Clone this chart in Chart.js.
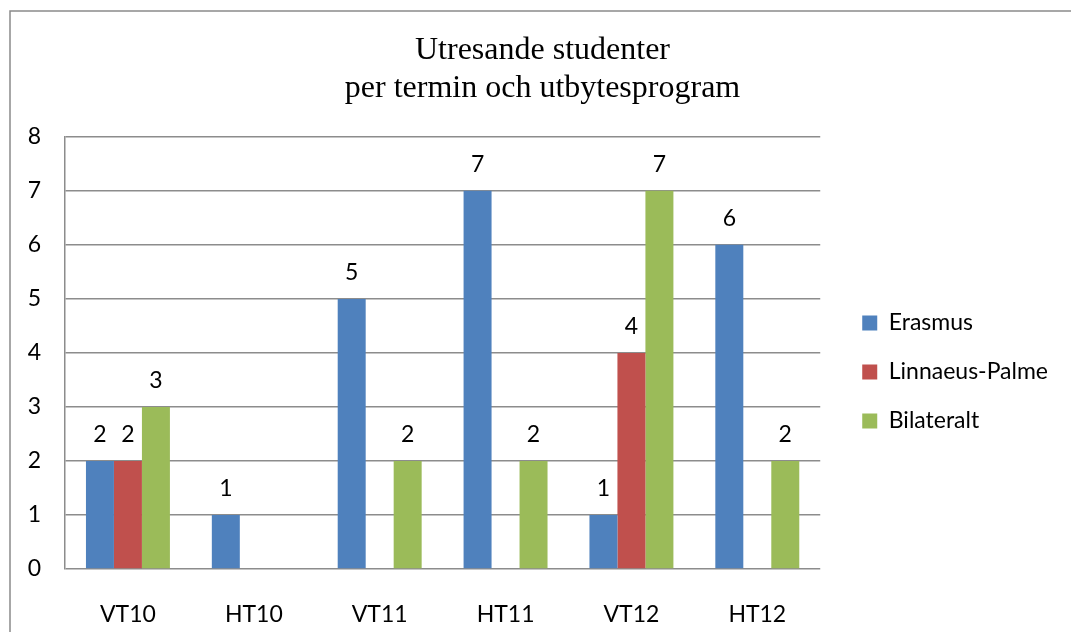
<!DOCTYPE html>
<html>
<head>
<meta charset="utf-8">
<script src="https://cdn.jsdelivr.net/npm/chart.js@4/dist/chart.umd.min.js"></script>
<style>
  html, body { margin: 0; padding: 0; background: #fff; }
  #wrap { position: relative; width: 1071px; height: 632px; }
</style>
</head>
<body>
<div id="wrap"><canvas id="chart" width="1071" height="632"></canvas></div>
<script>
// Data
const terms = ["VT10", "HT10", "VT11", "HT11", "VT12", "HT12"];
const erasmus = [2, 1, 5, 7, 1, 6];
const linnaeusPalme = [2, null, null, null, 4, null];
const bilateralt = [3, null, 2, 2, 7, 2];
const yTicks = [0, 1, 2, 3, 4, 5, 6, 7, 8];

const labelFont = { family: "Lato", size: 23 };

// Frame line round the chart (left and top edges only visible)
const framePlugin = {
  id: "frame",
  beforeDraw(chart) {
    const ctx = chart.ctx;
    ctx.save();
    ctx.strokeStyle = "#8a8a8a";
    ctx.lineWidth = 1.5;
    ctx.beginPath();
    ctx.moveTo(10, 632);
    ctx.lineTo(10, 11);
    ctx.lineTo(1071, 11);
    ctx.stroke();
    ctx.restore();
  }
};

// Extra space between plot and legend, and legend moved a bit down
const legendGap = {
  id: "legendGap",
  beforeLayout(chart) {
    const lg = chart.legend;
    if (lg && !lg._gapPatched) {
      const origFit = lg.fit;
      lg.fit = function () { origFit.call(this); this.width += 16; };
      lg._gapPatched = true;
    }
  },
  afterLayout(chart) {
    const lg = chart.legend;
    if (!lg) return;
    lg.left += 16;
    lg.top += 19;
    lg.bottom += 19;
  }
};

// Value labels above the bars
const valueLabels = {
  id: "valueLabels",
  afterDatasetsDraw(chart) {
    const ctx = chart.ctx;
    ctx.save();
    ctx.font = `${labelFont.size}px ${labelFont.family}`;
    ctx.fillStyle = "#000";
    ctx.textAlign = "center";
    ctx.textBaseline = "middle";
    chart.data.datasets.forEach((ds, i) => {
      const meta = chart.getDatasetMeta(i);
      meta.data.forEach((bar, j) => {
        const v = ds.data[j];
        if (v === null || v === undefined) return;
        ctx.fillText(String(v), bar.x, bar.y - 26);
      });
    });
    ctx.restore();
  }
};

function buildChart() {
  const ctx = document.getElementById("chart").getContext("2d");
  return new Chart(ctx, {
    type: "bar",
    data: {
      labels: terms,
      datasets: [
        { label: "Erasmus", data: erasmus, backgroundColor: "#4f81bd" },
        { label: "Linnaeus-Palme", data: linnaeusPalme, backgroundColor: "#c0504d" },
        { label: "Bilateralt", data: bilateralt, backgroundColor: "#9bbb59" }
      ]
    },
    options: {
      responsive: false,
      animation: false,
      layout: { padding: { left: 27, right: 13, top: 0, bottom: 0 } },
      datasets: {
        bar: { categoryPercentage: 0.667, barPercentage: 1.0 }
      },
      plugins: {
        title: {
          display: true,
          text: ["Utresande studenter", "per termin och utbytesprogram"],
          color: "#000",
          font: { family: "Liberation Serif", size: 32, weight: "normal", lineHeight: 1.2 },
          padding: { top: 31, bottom: 29 }
        },
        legend: {
          position: "right",
          align: "center",
          fullSize: false,
          labels: {
            color: "#000",
            font: labelFont,
            boxWidth: 15,
            boxHeight: 15,
            padding: 26
          }
        },
        tooltip: { enabled: false }
      },
      scales: {
        x: {
          grid: { display: false },
          border: { display: false },
          ticks: { color: "#000", font: labelFont, padding: 24, maxRotation: 0 },
          afterFit(scale) { scale.height = 63; }
        },
        y: {
          min: 0,
          max: 8,
          grid: { color: "#8c8c8c", lineWidth: 1.5, drawTicks: false },
          border: { color: "#8c8c8c", width: 1.5 },
          ticks: {
            color: "#000",
            font: labelFont,
            padding: 24,
            stepSize: 1,
            callback: (v) => yTicks.includes(v) ? String(v) : null
          },
          afterFit(scale) { scale.width = 38; }
        }
      }
    },
    plugins: [framePlugin, legendGap, valueLabels]
  });
}

let myChart = null;
Promise.all([
  document.fonts.load(`${labelFont.size}px Lato`),
  document.fonts.load("32px 'Liberation Serif'")
]).catch(() => {}).then(() => { myChart = buildChart(); });
</script>
</body>
</html>
